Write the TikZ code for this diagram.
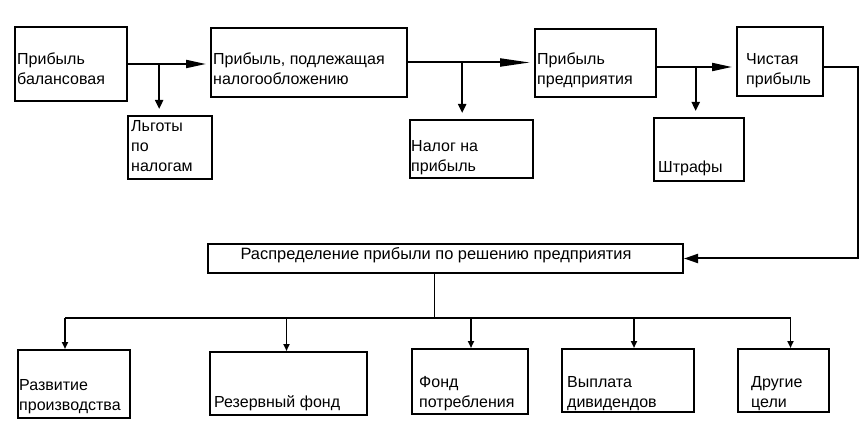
\documentclass[tikz,border=0pt]{standalone}
\usepackage{fontspec}
\setmainfont{Liberation Sans}
\usetikzlibrary{arrows.meta,calc}

\tikzset{
  box/.style={draw, line width=2pt, anchor=north west, inner sep=0pt},
  txt/.style={anchor=base west, align=left, inner sep=0pt, font=\fontsize{16}{20}\selectfont},
  flow/.style={line width=2pt, -{Triangle[length=20pt,width=8pt]}, shorten >=4pt},
  drop/.style={line width=2pt, -{Triangle[length=9pt,width=8pt]}, shorten >=6pt},
  feed/.style={line width=1.7pt, -{Triangle[length=7pt,width=6pt]}},
}

\begin{document}
\begin{tikzpicture}[x=1pt,y=-1pt]
\useasboundingbox (0,0) rectangle (865,422);

% top row
\node[box, minimum width=112pt, minimum height=74pt] (bal) at (14,26) {};
\node[txt] (bal-t) at (17,85) {Прибыль\\балансовая};
\node[box, minimum width=196pt, minimum height=69pt] (tax) at (210,27) {};
\node[txt] (tax-t) at (213,85) {Прибыль, подлежащая\\налогообложению};
\node[box, minimum width=121pt, minimum height=68pt] (pred) at (534,28) {};
\node[txt] (pred-t) at (537,85) {Прибыль\\предприятия};
\node[box, minimum width=86pt, minimum height=69pt] (net) at (736,26) {};
\node[txt] (net-t) at (746,85) {Чистая\\прибыль};

% deductions
\node[box, minimum width=84pt, minimum height=63pt] (lgoty) at (127,115) {};
\node[txt] (lgoty-t) at (131,172) {Льготы\\по\\налогам};
\node[box, minimum width=123pt, minimum height=58pt] (nalog) at (409,119) {};
\node[txt] (nalog-t) at (411,172) {Налог на\\прибыль};
\node[box, minimum width=90pt, minimum height=63pt] (shtraf) at (653,117) {};
\node[txt] (shtraf-t) at (658,173) {Штрафы};

% distribution
\node[box, minimum width=475pt, minimum height=29pt] (dist) at (207,243) {};
\node[txt, anchor=base, font=\fontsize{16.4}{20}\selectfont] (dist-t) at (436,259) {Распределение прибыли по решению предприятия};

\node[box, minimum width=112pt, minimum height=68pt] (dev) at (17,349) {};
\node[txt] (dev-t) at (19,410) {Развитие\\производства};
\node[box, minimum width=157pt, minimum height=63pt] (res) at (209,351) {};
\node[txt] (res-t) at (214,407) {Резервный фонд};
\node[box, minimum width=116pt, minimum height=65pt] (cons) at (411,348) {};
\node[txt] (cons-t) at (419,407) {Фонд\\потребления};
\node[box, minimum width=132pt, minimum height=63pt] (div) at (561,348) {};
\node[txt] (div-t) at (567,407) {Выплата\\дивидендов};
\node[box, minimum width=91pt, minimum height=63pt] (oth) at (737,348) {};
\node[txt] (oth-t) at (751,407) {Другие\\цели};

% connectors, top row
\draw[flow] (bal.east) -- (bal.east -| tax.west);
\coordinate (j1) at ($(bal.east)!.38!(bal.east -| tax.west)$);
\draw[drop] (j1) -- (j1 |- lgoty.north);

\draw[flow, -{Triangle[length=30pt,width=8pt]}] (tax.east) -- (tax.east -| pred.west);
\coordinate (j2) at ($(tax.east)!.43!(tax.east -| pred.west)$);
\draw[drop] (j2) -- (j2 |- nalog.north);

\coordinate (r3) at ([yshift=-4pt]pred.east);
\draw[flow] (r3) -- (r3 -| net.west);
\coordinate (j3) at ($(r3)!.49!(r3 -| net.west)$);
\draw[drop] (j3) -- (j3 |- shtraf.north);

\coordinate (r4) at ([yshift=-5.5pt]net.east);
\draw[line width=2pt, -{Triangle[length=14pt,width=9pt]}] (r4) -- ++(34,0) |- (dist.east);

% connectors, bottom row
\coordinate (ds) at ([xshift=-11pt]dist.south);
\coordinate (bus) at (0,318);
\draw[line width=1.7pt] (ds) -- (ds |- bus);
\foreach \n/\dx in {dev/-9, res/-2, cons/1, div/6, oth/7}{
  \coordinate (t-\n) at ([xshift=\dx pt]\n.north);
  \draw[feed] (t-\n |- bus) -- (t-\n);
}
\draw[line width=1.7pt] (t-dev |- bus) -- (t-oth |- bus);

\end{tikzpicture}
\end{document}
